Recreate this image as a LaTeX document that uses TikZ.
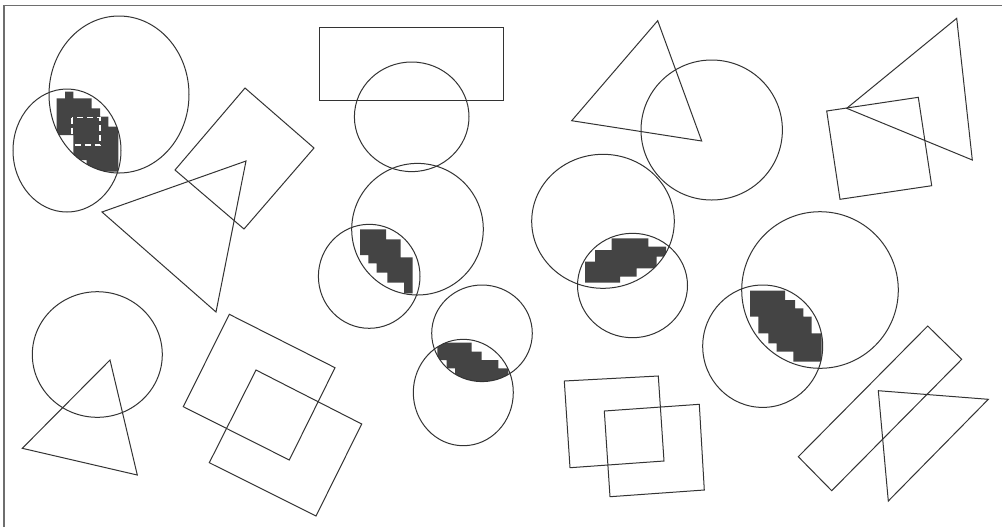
\documentclass[tikz,border=0pt]{standalone}
\usepackage{tikz}
\definecolor{inkgrey}{RGB}{51,51,51}
\definecolor{framegrey}{RGB}{110,110,110}
\definecolor{blotgrey}{RGB}{68,68,68}
\tikzset{
  shp/.style={draw=inkgrey,line width=0.5pt,line join=miter},
  frm/.style={draw=framegrey,line width=0.8pt},
  blot/.style={fill=blotgrey},
  hole/.style={draw=white,line width=0.6pt,densely dashed}
}

\begin{document}
\begin{tikzpicture}[x=0.5pt,y=-0.5pt]
    \useasboundingbox (0,0) rectangle (1002,527);
    \fill[white] (0,0) rectangle (1002,527);
    \draw[frm] (4,527) -- (4,5.5) -- (1002,5.5);
    % lens blots first, outlines on top
    \begin{scope}
      \clip (119,94.5) ellipse [x radius=70,y radius=78.5];
      \clip (67,150.5) ellipse [x radius=54,y radius=61.5];
      \fill[blot] (56.7,98.3) -- (65,98.3) -- (65,91.7) -- (73.3,91.7) -- (73.3,98.3) -- (91.7,98.3) -- (91.7,108.3) -- (100,108.3) -- (100,116.7) -- (108.3,116.7) -- (108.3,126.7) -- (118.3,126.7) -- (118.3,171.7) -- (86.7,171.7) -- (86.7,160) -- (73.3,160) -- (73.3,135) -- (56.7,135) -- cycle;
    \end{scope}
    \draw[hole] (72,117.5) rectangle (100,145);
    \begin{scope}
      \clip (417.5,229.2) ellipse [x radius=65.8,y radius=65.8];
      \clip (369.2,276.3) ellipse [x radius=50.8,y radius=52];
      \fill[blot] (360,229.3) -- (386,229.3) -- (386,239.3) -- (400.7,239.3) -- (400.7,257.3) -- (412.7,257.3) -- (412.7,293.3) -- (404,293.3) -- (404,282.7) -- (387.3,282.7) -- (387.3,272.7) -- (376.7,272.7) -- (376.7,263.3) -- (368.3,263.3) -- (368.3,255) -- (360,255) -- cycle;
    \end{scope}
    \begin{scope}
      \clip (482,333.3) ellipse [x radius=50.3,y radius=48.3];
      \clip (463.3,392.5) ellipse [x radius=50,y radius=53.2];
      \fill[blot] (437.3,342.7) -- (471.7,342.7) -- (471.7,351.7) -- (481.7,351.7) -- (481.7,360) -- (498.3,360) -- (498.3,368.3) -- (508.3,368.3) -- (508.3,380) -- (498.3,380) -- (498.3,388.3) -- (463.3,388.3) -- (463.3,378.3) -- (455,378.3) -- (455,368.3) -- (446.7,368.3) -- (446.7,360) -- (437.3,360) -- cycle;
    \end{scope}
    \begin{scope}
      \clip (603,221.3) ellipse [x radius=71.3,y radius=67];
      \clip (632.5,285.5) ellipse [x radius=55,y radius=52.2];
      \fill[blot] (585,261.7) -- (595,261.7) -- (595,250) -- (611.7,250) -- (611.7,238.3) -- (648.3,238.3) -- (648.3,246.7) -- (666,246.7) -- (666,256.7) -- (656.7,256.7) -- (656.7,268.3) -- (636.7,268.3) -- (636.7,276.7) -- (620,276.7) -- (620,282.7) -- (585,282.7) -- cycle;
    \end{scope}
    \begin{scope}
      \clip (820,290) ellipse [x radius=78.3,y radius=78.3];
      \clip (762.7,346.2) ellipse [x radius=60,y radius=61.2];
      \fill[blot] (750,290.7) -- (785,290.7) -- (785,300) -- (795,300) -- (795,308.3) -- (803.3,308.3) -- (803.3,316.7) -- (811.7,316.7) -- (811.7,333.3) -- (821.7,333.3) -- (821.7,361.7) -- (793.3,361.7) -- (793.3,351.7) -- (776.7,351.7) -- (776.7,343.3) -- (768.3,343.3) -- (768.3,333.3) -- (758.3,333.3) -- (758.3,316.7) -- (750,316.7) -- cycle;
    \end{scope}
    % circles
    \draw[shp] (119,94.5) ellipse [x radius=70,y radius=78.5];
    \draw[shp] (67,150.5) ellipse [x radius=54,y radius=61.5];
    \draw[shp] (411.7,116.8) ellipse [x radius=57.3,y radius=54.8];
    \draw[shp] (417.5,229.2) ellipse [x radius=65.8,y radius=65.8];
    \draw[shp] (369.2,276.3) ellipse [x radius=50.8,y radius=52];
    \draw[shp] (482,333.3) ellipse [x radius=50.3,y radius=48.3];
    \draw[shp] (463.3,392.5) ellipse [x radius=50,y radius=53.2];
    \draw[shp] (711.7,130) ellipse [x radius=70.7,y radius=70];
    \draw[shp] (603,221.3) ellipse [x radius=71.3,y radius=67];
    \draw[shp] (632.5,285.5) ellipse [x radius=55,y radius=52.2];
    \draw[shp] (820,290) ellipse [x radius=78.3,y radius=78.3];
    \draw[shp] (762.7,346.2) ellipse [x radius=60,y radius=61.2];
    \draw[shp] (97.3,354.5) ellipse [x radius=65,y radius=62.8];
    % squares and boxes
    \draw[shp] (319,27) rectangle (503,100);
    \draw[shp] (245,88) -- (314,148) -- (244,229) -- (175,170) -- cycle;
    \draw[shp] (229.3,314.3) -- (335,367.7) -- (289.3,460) -- (183.3,406.7) -- cycle;
    \draw[shp] (256,370) -- (361.7,424) -- (316,516) -- (209.3,462.7) -- cycle;
    \draw[shp] (564.3,381) -- (658.3,376) -- (664,461) -- (570,467.7) -- cycle;
    \draw[shp] (604.3,411) -- (699.3,404.3) -- (704.3,490) -- (610,496.7) -- cycle;
    \draw[shp] (826.7,111) -- (918.3,97.3) -- (931.7,185.7) -- (840,199.3) -- cycle;
    \draw[shp] (927.7,326) -- (961.7,359.3) -- (831.7,490.7) -- (798.3,456.7) -- cycle;
    % triangles
    \draw[shp] (102,212) -- (246,161) -- (216,312) -- cycle;
    \draw[shp] (110,360) -- (22.3,448.3) -- (137.3,475) -- cycle;
    \draw[shp] (657.7,20.7) -- (571.7,120.7) -- (701.7,141) -- cycle;
    \draw[shp] (956.7,18.3) -- (846.7,108.3) -- (972.3,160) -- cycle;
    \draw[shp] (878.3,390.7) -- (988.3,399.3) -- (888.3,501) -- cycle;
\end{tikzpicture}
\end{document}
